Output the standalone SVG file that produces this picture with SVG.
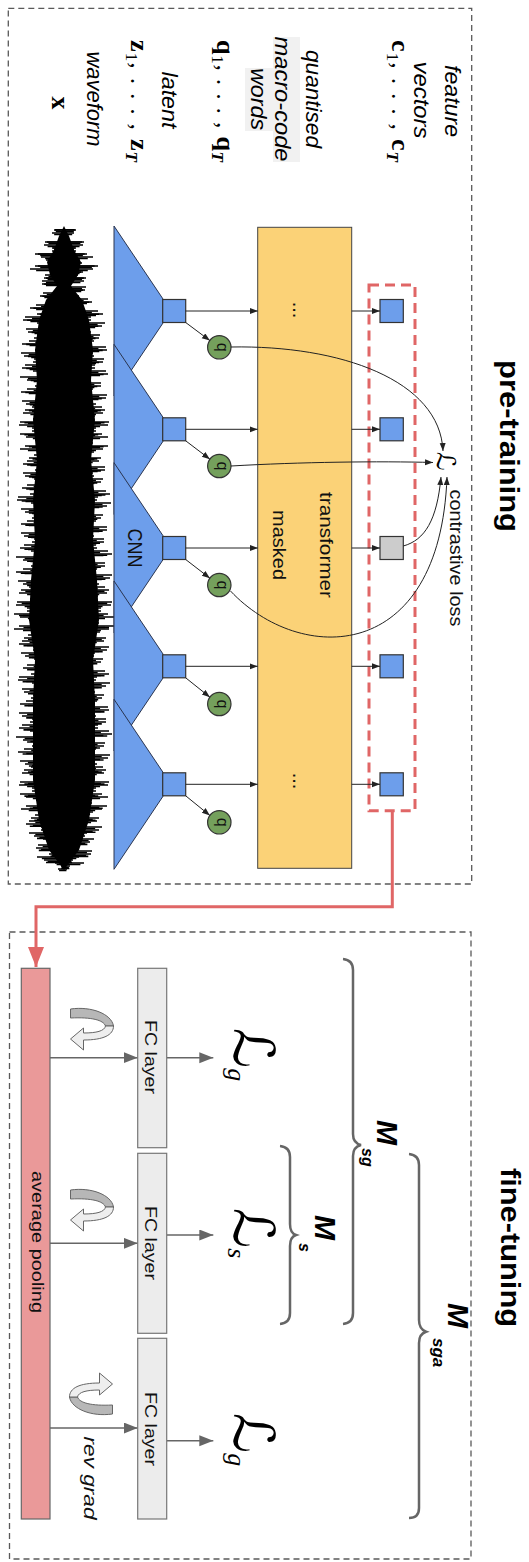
<svg xmlns="http://www.w3.org/2000/svg" width="529" height="1562" viewBox="0 0 529 1562">
<style>
.frame{fill:none;stroke:#595959;stroke-width:1.3;stroke-dasharray:6 4}
.cnn{fill:#6d9eeb;stroke:#2a3550;stroke-width:1}
.sq{fill:#6d9eeb;stroke:#333;stroke-width:1.2}
.qc{fill:#74a05c;stroke:#333;stroke-width:1.2}
.c1{fill:none;stroke:#222;stroke-width:1;marker-end:url(#ah)}
.g1{fill:none;stroke:#666;stroke-width:1.5;marker-end:url(#ag)}
.brace{fill:none;stroke:#666;stroke-width:2.5}
.lbl{font-family:"Liberation Sans",Arial,sans-serif;font-style:italic;font-size:22px;fill:#000}
.sans{font-family:"Liberation Sans",Arial,sans-serif;fill:#111}
.math{font-family:"Liberation Serif","Times New Roman",serif;font-size:26px;fill:#000}
.title{font-family:"Liberation Sans",Arial,sans-serif;font-weight:bold;font-size:28px;fill:#000}
.scr{font-family:"DejaVu Serif","DejaVu Sans",serif;fill:#000}
.sub{font-family:"Liberation Serif","Times New Roman",serif;font-style:italic}
.mm{font-family:"Liberation Sans",Arial,sans-serif;font-weight:bold;font-style:italic;fill:#000}
.needle{fill:none;stroke:#000;stroke-width:1.6}
</style>
<defs>
<marker id="ah" markerUnits="userSpaceOnUse" markerWidth="9" markerHeight="7" refX="8" refY="3" orient="auto"><path d="M0,0 L8,3 L0,6 Z" fill="#222"/></marker>
<marker id="ag" markerUnits="userSpaceOnUse" markerWidth="15" markerHeight="12" refX="14" refY="5.5" orient="auto"><path d="M0,0 L14,5.5 L0,11 Z" fill="#666"/></marker>
<marker id="ar" markerUnits="userSpaceOnUse" markerWidth="21" markerHeight="17" refX="20" refY="8" orient="auto"><path d="M0,0 L20,8 L0,16 Z" fill="#e06666"/></marker>
<path id="needles" d="M54,230H76M61,236H68M45,242H84M52,248H76M35,254H87M46,260H80M35,266H98M50,272H83M44,278H86M42,284H71M55,290H85M40,296H79M47,302H92M30,308H83M37,314H103M23,320H91M39,326H102M28,332H91M34,338H99M22,344H92M35,350H107M24,356H94M33,362H103M22,368H95M39,374H108M27,380H91M35,386H101M21,392H90M36,398H106M26,404H96M25,410H105M34,416H95M20,422H109M32,428H96M20,434H102M35,440H91M25,446H108M39,452H94M29,458H101M23,464H90M35,470H105M25,476H94M38,482H101M22,488H91M30,494H110M17,500H97M34,506H107M25,512H94M32,518H101M21,524H93M35,530H107M24,536H94M32,542H104M20,548H97M35,554H112M23,560H95M31,566H105M16,572H95M32,578H110M23,584H99M21,590H109M31,596H98M17,602H112M27,608H101M14,614H108M29,620H97M19,626H114M33,632H100M24,638H106M19,644H94M33,650H107M25,656H94M38,662H101M23,668H90M31,674H109M18,680H96M35,686H106M24,692H95M31,698H102M20,704H94M33,710H109M22,716H96M30,722H106M19,728H98M35,734H112M23,740H95M32,746H104M18,752H93M34,758H108M25,764H97M24,770H106M34,776H95M20,782H109M32,788H96M20,794H102M36,800H90M26,806H107M40,812H93M31,818H99M26,824H87M41,830H99M34,836H85M49,842H90M36,848H77M49,854H91M44,860H73M61,866H70"/>
<g id="rot">
<path d="M-21,-20 C0,-23 20,-15 22,-3 L14,-3 C12,-9 0,-12 -21,-11 Z" fill="#b7b7b7" stroke="#666" stroke-width="1"/>
<path d="M22,-3 C22,6 12,11 -8,11 L-8,21 L-21,10 L-8,-1 L-8,4 C5,4 13,2 14,-3 Z" fill="#eeeeee" stroke="#666" stroke-width="1"/>
</g>
</defs>
<rect width="529" height="1562" fill="#fff"/>

<g id="pretraining-frame">
<rect class="frame" x="8.3" y="8.3" width="463.4" height="875.7"/>
<text class="title" transform="translate(500,446) rotate(90)" text-anchor="middle" textLength="172" lengthAdjust="spacingAndGlyphs">pre-training</text>
</g>
<g id="finetuning-frame">
<rect class="frame" x="9.5" y="932" width="461.5" height="627"/>
<text class="title" transform="translate(501,1247.5) rotate(90)" text-anchor="middle" textLength="159" lengthAdjust="spacingAndGlyphs">fine-tuning</text>
</g>

<g id="labels">
<rect x="273" y="37" width="27" height="125" fill="#f1f1f1"/>
<rect x="245" y="68" width="28" height="63" fill="#f1f1f1"/>
<text class="lbl" transform="translate(445,101) rotate(90)" text-anchor="middle" textLength="72" lengthAdjust="spacingAndGlyphs">feature</text>
<text class="lbl" transform="translate(414,100) rotate(90)" text-anchor="middle" textLength="77" lengthAdjust="spacingAndGlyphs">vectors</text>
<text class="math" transform="translate(392,101) rotate(90)" text-anchor="middle" textLength="122" lengthAdjust="spacing"><tspan font-weight="bold">c</tspan><tspan font-size="17" dy="5">1</tspan><tspan dy="-5">, . . . , </tspan><tspan font-weight="bold">c</tspan><tspan font-size="17" font-style="italic" font-weight="bold" dy="5">T</tspan></text>
<text class="lbl" transform="translate(306,99) rotate(90)" text-anchor="middle" textLength="98" lengthAdjust="spacingAndGlyphs">quantised</text>
<text class="lbl" transform="translate(275,99) rotate(90)" text-anchor="middle" textLength="125" lengthAdjust="spacingAndGlyphs">macro-code</text>
<text class="lbl" transform="translate(251,99) rotate(90)" text-anchor="middle" textLength="62" lengthAdjust="spacingAndGlyphs">words</text>
<text class="math" transform="translate(217,101) rotate(90)" text-anchor="middle" textLength="122" lengthAdjust="spacing"><tspan font-weight="bold">q</tspan><tspan font-size="17" dy="5">1</tspan><tspan dy="-5">, . . . , </tspan><tspan font-weight="bold">q</tspan><tspan font-size="17" font-style="italic" font-weight="bold" dy="5">T</tspan></text>
<text class="lbl" transform="translate(162,100) rotate(90)" text-anchor="middle" textLength="57" lengthAdjust="spacingAndGlyphs">latent</text>
<text class="math" transform="translate(131,101) rotate(90)" text-anchor="middle" textLength="122" lengthAdjust="spacing"><tspan font-weight="bold">z</tspan><tspan font-size="17" dy="5">1</tspan><tspan dy="-5">, . . . , </tspan><tspan font-weight="bold">z</tspan><tspan font-size="17" font-style="italic" font-weight="bold" dy="5">T</tspan></text>
<text class="lbl" transform="translate(87,99) rotate(90)" text-anchor="middle" textLength="95" lengthAdjust="spacingAndGlyphs">waveform</text>
<text class="math" transform="translate(52,103) rotate(90)" text-anchor="middle" font-weight="bold" font-size="26">x</text>
</g>

<g id="waveform">
<path d="M64,226 L69,236 74,250 81,262 78,275 71,286 82,300 89,320 93,350 91,380 95,420 91,460 95,500 93,540 97,580 99,620 93,660 95,700 95,780 89,820 79,850 70,862 64,870 L58,862 49,850 39,820 33,780 33,700 35,660 29,620 31,580 35,540 33,500 37,460 33,420 37,380 35,350 39,320 46,300 57,286 50,275 47,262 54,250 59,236 Z" fill="#000"/>
<use href="#needles" class="needle"/>
<use href="#needles" class="needle" transform="translate(128,3) scale(-1,1)"/>
<use href="#needles" class="needle" transform="translate(64,1.5) scale(0.82,1) translate(-64,0)"/>
<use href="#needles" class="needle" transform="translate(64,4.5) scale(-0.82,1) translate(-64,0)"/>
<use href="#needles" class="needle" transform="translate(64,-1) scale(0.9,1.004) translate(-64,0)"/>
</g>

<g id="cnn">
<polygon class="cnn" points="114,226 163,299 163,323 114,396"/>
<polygon class="cnn" points="114,344.3 163,417.3 163,441.3 114,514.3"/>
<polygon class="cnn" points="114,462.7 163,535.7 163,559.7 114,632.7"/>
<polygon class="cnn" points="114,581 163,654 163,678 114,751"/>
<polygon class="cnn" points="114,699.3 163,772.3 163,796.3 114,869.3"/>
<text class="sans" transform="translate(128,548) rotate(90)" text-anchor="middle" font-size="21" textLength="39" lengthAdjust="spacingAndGlyphs">CNN</text>
</g>

<g id="latent-squares">
<rect class="sq" x="162.7" y="299.5" width="23" height="23"/>
<rect class="sq" x="162.7" y="417.8" width="23" height="23"/>
<rect class="sq" x="162.7" y="536.5" width="23" height="23"/>
<rect class="sq" x="162.7" y="654.8" width="23" height="23"/>
<rect class="sq" x="162.7" y="772.8" width="23" height="23"/>
</g>

<g id="quantisers">
<circle class="qc" cx="219.3" cy="347.3" r="11.7"/>
<circle class="qc" cx="219.3" cy="466" r="11.7"/>
<circle class="qc" cx="219.3" cy="585" r="11.7"/>
<circle class="qc" cx="219.3" cy="704" r="11.7"/>
<circle class="qc" cx="219.3" cy="822.3" r="11.7"/>
<g class="sans" font-size="16" text-anchor="middle">
<text transform="translate(216.5,347.3) rotate(90)">q</text>
<text transform="translate(216.5,466) rotate(90)">q</text>
<text transform="translate(216.5,585) rotate(90)">q</text>
<text transform="translate(216.5,704) rotate(90)">q</text>
<text transform="translate(216.5,822.3) rotate(90)">q</text>
</g>
</g>

<g id="transformer">
<rect x="257.7" y="227.3" width="94" height="641" fill="#fbd277" stroke="#444" stroke-width="1"/>
<text class="sans" transform="translate(320,545) rotate(90)" text-anchor="middle" font-size="19" textLength="106" lengthAdjust="spacingAndGlyphs">transformer</text>
<text class="sans" transform="translate(273,545) rotate(90)" text-anchor="middle" font-size="19" textLength="70" lengthAdjust="spacingAndGlyphs">masked</text>
<text class="sans" transform="translate(293,310) rotate(90)" text-anchor="middle" font-size="20">...</text>
<text class="sans" transform="translate(293,781) rotate(90)" text-anchor="middle" font-size="20">...</text>
</g>

<g id="context-vectors">
<rect class="sq" x="380" y="299.5" width="23.3" height="23"/>
<rect class="sq" x="380" y="417.8" width="23.3" height="23"/>
<rect x="380" y="536.5" width="23.3" height="23" fill="#cccccc" stroke="#333" stroke-width="1.2"/>
<rect class="sq" x="380" y="654.8" width="23.3" height="23"/>
<rect class="sq" x="380" y="772.8" width="23.3" height="23"/>
<rect x="369" y="285" width="46" height="525.7" fill="none" stroke="#e06666" stroke-width="3" stroke-dasharray="10 6"/>
</g>

<g id="contrastive-loss">
<text class="scr" transform="translate(437,461) rotate(90)" text-anchor="middle" font-size="26">ℒ</text>
<text class="sans" transform="translate(450,558) rotate(90)" text-anchor="middle" font-size="19" fill="#333" textLength="137" lengthAdjust="spacingAndGlyphs">contrastive loss</text>
</g>

<g id="connectors">
<path class="c1" d="M185.7,311 H257.7"/>
<path class="c1" d="M185.7,429.3 H257.7"/>
<path class="c1" d="M185.7,548 H257.7"/>
<path class="c1" d="M185.7,666.3 H257.7"/>
<path class="c1" d="M185.7,784.3 H257.7"/>
<path class="c1" d="M185.7,322.5 L209.9,340.6"/>
<path class="c1" d="M185.7,440.8 L209.9,459.2"/>
<path class="c1" d="M185.7,559.5 L209.9,578.2"/>
<path class="c1" d="M185.7,677.8 L209.9,697.2"/>
<path class="c1" d="M185.7,795.8 L209.9,815.5"/>
<path class="c1" d="M351.7,311 H380"/>
<path class="c1" d="M351.7,429.3 H380"/>
<path class="c1" d="M351.7,548 H380"/>
<path class="c1" d="M351.7,666.3 H380"/>
<path class="c1" d="M351.7,784.3 H380"/>
<path class="c1" d="M231,347 C340,345 440,380 443,451"/>
<path class="c1" d="M231,466 C300,462 380,461 433,462.5"/>
<path class="c1" d="M403.3,546 C425,540 437,520 441,477"/>
<path class="c1" d="M230.5,591 C300,665 440,665 447,477"/>
<path d="M392.3,811 V906.7 H36 V967" fill="none" stroke="#e06666" stroke-width="3" marker-end="url(#ar)"/>
<path class="g1" d="M44,1057.7 H137.7"/>
<path class="g1" d="M50,1243.3 H137.7"/>
<path class="g1" d="M43,1428 H137.7"/>
<path class="g1" d="M166.7,1057.7 H213.3"/>
<path class="g1" d="M166.7,1235 H213.3"/>
<path class="g1" d="M166.7,1440.7 H213.3"/>
</g>

<g id="average-pooling">
<rect x="21.3" y="968.3" width="28.7" height="550.7" fill="#ea9999" stroke="#666" stroke-width="1.2"/>
<text class="sans" transform="translate(32,1242) rotate(90)" text-anchor="middle" font-size="17" textLength="142" lengthAdjust="spacingAndGlyphs">average pooling</text>
</g>

<g id="fc1">
<rect x="137.7" y="968.3" width="29" height="179.4" fill="#ececec" stroke="#777" stroke-width="1.2"/>
<text class="sans" transform="translate(145,1057) rotate(90)" text-anchor="middle" font-size="16" textLength="74" lengthAdjust="spacingAndGlyphs">FC layer</text>
</g>
<g id="fc2">
<rect x="137.7" y="1153.3" width="29" height="180" fill="#ececec" stroke="#777" stroke-width="1.2"/>
<text class="sans" transform="translate(145,1243) rotate(90)" text-anchor="middle" font-size="16" textLength="74" lengthAdjust="spacingAndGlyphs">FC layer</text>
</g>
<g id="fc3">
<rect x="137.7" y="1338.3" width="29" height="180.7" fill="#ececec" stroke="#777" stroke-width="1.2"/>
<text class="sans" transform="translate(145,1429) rotate(90)" text-anchor="middle" font-size="16" textLength="74" lengthAdjust="spacingAndGlyphs">FC layer</text>
</g>

<g id="grad-arrow1"><use href="#rot" transform="translate(91.5,1029)"/></g>
<g id="grad-arrow2"><use href="#rot" transform="translate(91.5,1210)"/></g>
<g id="grad-arrow3"><use href="#rot" transform="translate(91.5,1394) rotate(180)"/>
<text class="sans" transform="translate(84,1478) rotate(90)" text-anchor="middle" font-style="italic" font-size="19" textLength="83" lengthAdjust="spacingAndGlyphs">rev grad</text>
</g>

<g id="loss-g1"><text class="scr" transform="translate(234,1028) rotate(90)" font-size="56">ℒ<tspan class="sub" font-size="26" dy="6">g</tspan></text></g>
<g id="loss-s"><text class="scr" transform="translate(234,1208) rotate(90)" font-size="56">ℒ<tspan class="sub" font-size="26" dy="6">s</tspan></text></g>
<g id="loss-g2"><text class="scr" transform="translate(234,1413) rotate(90)" font-size="56">ℒ<tspan class="sub" font-size="26" dy="6">g</tspan></text></g>

<g id="brace-msg">
<path class="brace" d="M343,959 Q353,960 353,970 L353,1134 Q353,1143 361,1145 Q353,1147 353,1156 L353,1313 Q353,1323 343,1324"/>
<text class="mm" transform="translate(377,1120) rotate(90)" font-size="30">M</text>
<text class="mm" transform="translate(362,1148) rotate(90)" font-size="16">sg</text>
</g>
<g id="brace-ms">
<path class="brace" d="M280,1146 Q290,1147 290,1157 L290,1224 Q290,1233 296,1235 Q290,1237 290,1246 L290,1313 Q290,1323 280,1324"/>
<text class="mm" transform="translate(315,1215) rotate(90)" font-size="30">M</text>
<text class="mm" transform="translate(299,1243) rotate(90)" font-size="16">s</text>
</g>
<g id="brace-msga">
<path class="brace" d="M409,1154 Q419,1155 419,1165 L419,1320 Q419,1329 426,1331.7 Q419,1334 419,1343 L419,1508 Q419,1518 409,1518"/>
<text class="mm" transform="translate(448,1303) rotate(90)" font-size="30">M</text>
<text class="mm" transform="translate(433,1338) rotate(90)" font-size="17">sga</text>
</g>
</svg>
